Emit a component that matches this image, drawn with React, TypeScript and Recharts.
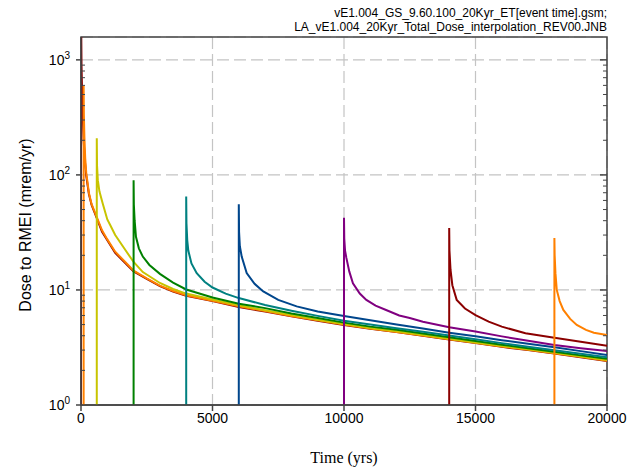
import React from 'react';
import { LineChart, Line, XAxis, YAxis, CartesianGrid, ReferenceArea } from 'recharts';

// tick positions
const xMajorTicks = [0, 5000, 10000, 15000, 20000];
const xMinorTicks = [
  1000, 2000, 3000, 4000, 6000, 7000, 8000, 9000, 11000, 12000, 13000, 14000, 16000, 17000, 18000,
  19000,
];
const yMajorTicks = [1, 10, 100, 1000];
const yMinorTicks = [
  2, 3, 4, 5, 6, 7, 8, 9, 20, 30, 40, 50, 60, 70, 80, 90, 200, 300, 400, 500, 600, 700, 800, 900,
];

// [time (yrs), dose (mrem/yr)], one list per event time
const doseET0: [number, number][] = [
  [0, 1], [0, 3000], [20, 900], [50, 420], [100, 200], [150, 130], [200, 98], [300, 68], [400, 55],
  [600, 42], [800, 32], [1000, 27], [1300, 21], [1700, 17], [2000, 14.5], [2500, 12.5], [3000, 10.8],
  [3500, 9.7], [4000, 8.9], [5000, 8.0], [6000, 7.1], [7000, 6.5], [8000, 5.9], [9000, 5.4],
  [10000, 4.95], [11000, 4.6], [12000, 4.3], [13000, 4.0], [14000, 3.7], [15000, 3.45], [16000, 3.2],
  [17000, 3.0], [18000, 2.8], [19000, 2.6], [20000, 2.41],
];
const doseET100: [number, number][] = [
  [100, 1], [100, 594], [110, 330], [130, 210], [160, 140], [200, 104], [300, 70], [400, 56],
  [600, 43], [800, 33], [1000, 27.5], [1300, 21.5], [1700, 17.3], [2000, 14.7], [2500, 12.6],
  [3000, 10.9], [3500, 9.8], [4000, 9.0], [5000, 8.05], [6000, 7.2], [7000, 6.55], [8000, 5.95],
  [9000, 5.45], [10000, 5.0], [11000, 4.62], [12000, 4.32], [13000, 4.02], [14000, 3.72],
  [15000, 3.47], [16000, 3.22], [17000, 3.02], [18000, 2.82], [19000, 2.62], [20000, 2.43],
];
const doseET600: [number, number][] = [
  [600, 1], [600, 208], [610, 120], [640, 90], [700, 72], [820, 57], [1000, 41], [1100, 37],
  [1300, 30], [1700, 22], [2000, 17.5], [2350, 14.3], [3000, 11.5], [3500, 10.2], [4000, 9.3],
  [5000, 8.25], [6000, 7.35], [7000, 6.65], [8000, 6.05], [9000, 5.5], [10000, 5.05], [11000, 4.68],
  [12000, 4.37], [13000, 4.06], [14000, 3.77], [15000, 3.5], [16000, 3.25], [17000, 3.05],
  [18000, 2.84], [19000, 2.64], [20000, 2.46],
];
const doseET2000: [number, number][] = [
  [2000, 1], [2000, 90], [2010, 55], [2040, 40], [2090, 29], [2200, 23], [2350, 19.5], [2600, 16.5],
  [3000, 13.8], [3500, 11.6], [4000, 10.1], [5000, 8.6], [6000, 7.6], [7000, 6.95], [8000, 6.25],
  [9000, 5.7], [10000, 5.2], [11000, 4.8], [12000, 4.5], [13000, 4.18], [14000, 3.88],
  [15000, 3.6], [16000, 3.34], [17000, 3.12], [18000, 2.9], [19000, 2.7], [20000, 2.52],
];
const doseET4000: [number, number][] = [
  [4000, 1], [4000, 65], [4010, 38], [4040, 27], [4080, 22], [4200, 17], [4400, 14], [4700, 11.8],
  [5000, 10.5], [5500, 9.3], [6000, 8.5], [7000, 7.4], [8000, 6.6], [9000, 5.95], [10000, 5.4],
  [11000, 5.0], [12000, 4.65], [13000, 4.33], [14000, 4.02], [15000, 3.73], [16000, 3.45],
  [17000, 3.21], [18000, 2.99], [19000, 2.79], [20000, 2.6],
];
const doseET6000: [number, number][] = [
  [6000, 1], [6000, 55.6], [6010, 32], [6040, 24], [6110, 19.5], [6300, 14], [6600, 11.3],
  [6930, 9.7], [7500, 8.2], [8200, 7.2], [9000, 6.5], [10000, 5.95], [11000, 5.45], [12000, 5.0],
  [13000, 4.62], [14000, 4.25], [15000, 3.95], [16000, 3.66], [17000, 3.41], [18000, 3.17],
  [19000, 2.94], [20000, 2.72],
];
const doseET10000: [number, number][] = [
  [10000, 1], [10000, 42.5], [10010, 28], [10040, 22], [10090, 19], [10200, 14.5], [10340, 11.4],
  [10600, 9.3], [10850, 8.2], [11200, 7.3], [11600, 6.7], [12100, 6.0], [12500, 5.7], [13000, 5.3],
  [14000, 4.74], [15000, 4.35], [16000, 3.95], [17000, 3.62], [18000, 3.33], [19000, 3.12],
  [20000, 2.95],
];
const doseET14000: [number, number][] = [
  [14000, 1], [14000, 34.6], [14010, 22], [14050, 15], [14120, 11], [14285, 8.2], [14600, 6.9],
  [15000, 6.05], [15500, 5.3], [16000, 4.8], [16900, 4.2], [18000, 3.85], [19000, 3.55],
  [20000, 3.28],
];
const doseET18000: [number, number][] = [
  [18000, 1], [18000, 28.3], [18010, 20], [18040, 14], [18090, 10], [18200, 8.0], [18340, 6.7],
  [18600, 5.6], [18850, 4.96], [19200, 4.5], [19500, 4.25], [20000, 4.06],
];

const series = [
  { name: 'ET 0', color: '#8B0000', points: doseET0 },
  { name: 'ET 100', color: '#FF8000', points: doseET100 },
  { name: 'ET 600', color: '#C8C400', points: doseET600 },
  { name: 'ET 2000', color: '#008000', points: doseET2000 },
  { name: 'ET 4000', color: '#008080', points: doseET4000 },
  { name: 'ET 6000', color: '#00468C', points: doseET6000 },
  { name: 'ET 10000', color: '#800080', points: doseET10000 },
  { name: 'ET 14000', color: '#8B0000', points: doseET14000 },
  { name: 'ET 18000', color: '#FF8000', points: doseET18000 },
];

const sans = 'Liberation Sans, Arial, sans-serif';
const axisColor = '#444';
const xDomain = [0, 20000];
const yDomain = [1, 1580];

const PowerTick = (props: any) => {
  const { x, y, payload } = props;
  const exp = Math.round(Math.log10(payload.value));
  return (
    <text x={x} y={y + 5} textAnchor="end" fontSize={14} fill="#000" fontFamily={sans}>
      10
      <tspan dy={-6} fontSize={10}>
        {exp}
      </tspan>
    </text>
  );
};

const blank = () => '';

export default function App() {
  return (
    <div style={{ position: 'absolute', left: 0, top: 0, width: 632, height: 470 }}>
      <div
        style={{
          position: 'absolute',
          right: 25,
          top: 6,
          textAlign: 'right',
          fontFamily: sans,
          fontSize: 12,
          lineHeight: '14px',
          color: '#000',
        }}
      >
        vE1.004_GS_9.60.100_20Kyr_ET[event time].gsm;
        <br />
        LA_vE1.004_20Kyr_Total_Dose_interpolation_REV00.JNB
      </div>
      <LineChart width={632} height={470} margin={{ top: 37, right: 25, bottom: 0, left: 0 }}>
        <CartesianGrid stroke="#c4c4c4" strokeDasharray="12 5" strokeWidth={1.2} />
        <XAxis
          dataKey="t"
          type="number"
          domain={xDomain}
          ticks={xMajorTicks}
          height={65}
          tickSize={6}
          tickMargin={2}
          stroke={axisColor}
          strokeWidth={1.5}
          tick={{ fill: '#000', fontSize: 14, fontFamily: sans }}
          allowDataOverflow
        />
        <XAxis
          xAxisId="botMinor"
          dataKey="t"
          type="number"
          domain={xDomain}
          ticks={xMinorTicks}
          mirror
          height={0.01}
          tickSize={4}
          axisLine={false}
          stroke={axisColor}
          tickFormatter={blank}
        />
        <XAxis
          xAxisId="top"
          orientation="top"
          dataKey="t"
          type="number"
          domain={xDomain}
          ticks={xMajorTicks}
          mirror
          height={0.01}
          tickSize={6}
          axisLine={false}
          stroke={axisColor}
          strokeWidth={1.5}
          tickFormatter={blank}
        />
        <XAxis
          xAxisId="topMinor"
          orientation="top"
          dataKey="t"
          type="number"
          domain={xDomain}
          ticks={xMinorTicks}
          mirror
          height={0.01}
          tickSize={4}
          axisLine={false}
          stroke={axisColor}
          tickFormatter={blank}
        />
        <YAxis
          type="number"
          scale="log"
          domain={yDomain}
          ticks={yMajorTicks}
          width={81}
          tickSize={5}
          tickMargin={6}
          stroke={axisColor}
          strokeWidth={1.5}
          tick={<PowerTick />}
          allowDataOverflow
        />
        <YAxis
          yAxisId="leftMinor"
          type="number"
          scale="log"
          domain={yDomain}
          ticks={yMinorTicks}
          mirror
          width={0.01}
          tickSize={4}
          axisLine={false}
          stroke={axisColor}
          tickFormatter={blank}
          allowDataOverflow
        />
        <YAxis
          yAxisId="right"
          orientation="right"
          type="number"
          scale="log"
          domain={yDomain}
          ticks={yMajorTicks}
          mirror
          width={0.01}
          tickSize={7}
          axisLine={false}
          stroke={axisColor}
          strokeWidth={1.5}
          tickFormatter={blank}
          allowDataOverflow
        />
        <YAxis
          yAxisId="rightMinor"
          orientation="right"
          type="number"
          scale="log"
          domain={yDomain}
          ticks={yMinorTicks}
          mirror
          width={0.01}
          tickSize={4}
          axisLine={false}
          stroke={axisColor}
          tickFormatter={blank}
          allowDataOverflow
        />
        <ReferenceArea
          x1={0}
          x2={20000}
          y1={1}
          y2={1580}
          fill="none"
          fillOpacity={0}
          stroke={axisColor}
          strokeWidth={1.5}
          ifOverflow="visible"
        />
        {series.map((s) => (
          <Line
            key={s.name}
            name={s.name}
            data={s.points.map(([t, v]) => ({ t, v }))}
            dataKey="v"
            type="linear"
            stroke={s.color}
            strokeWidth={2}
            dot={false}
            activeDot={false}
            isAnimationActive={false}
          />
        ))}
      </LineChart>
      <div
        style={{
          position: 'absolute',
          left: 244,
          top: 449,
          width: 200,
          textAlign: 'center',
          fontFamily: 'Liberation Serif, Times New Roman, serif',
          fontSize: 16,
          lineHeight: '18px',
          color: '#000',
        }}
      >
        Time (yrs)
      </div>
      <div
        style={{
          position: 'absolute',
          left: 26 - 150,
          top: 225 - 10,
          width: 300,
          height: 20,
          textAlign: 'center',
          fontFamily: sans,
          fontSize: 16,
          lineHeight: '20px',
          color: '#000',
          transform: 'rotate(-90deg)',
        }}
      >
        Dose to RMEI (mrem/yr)
      </div>
    </div>
  );
}
